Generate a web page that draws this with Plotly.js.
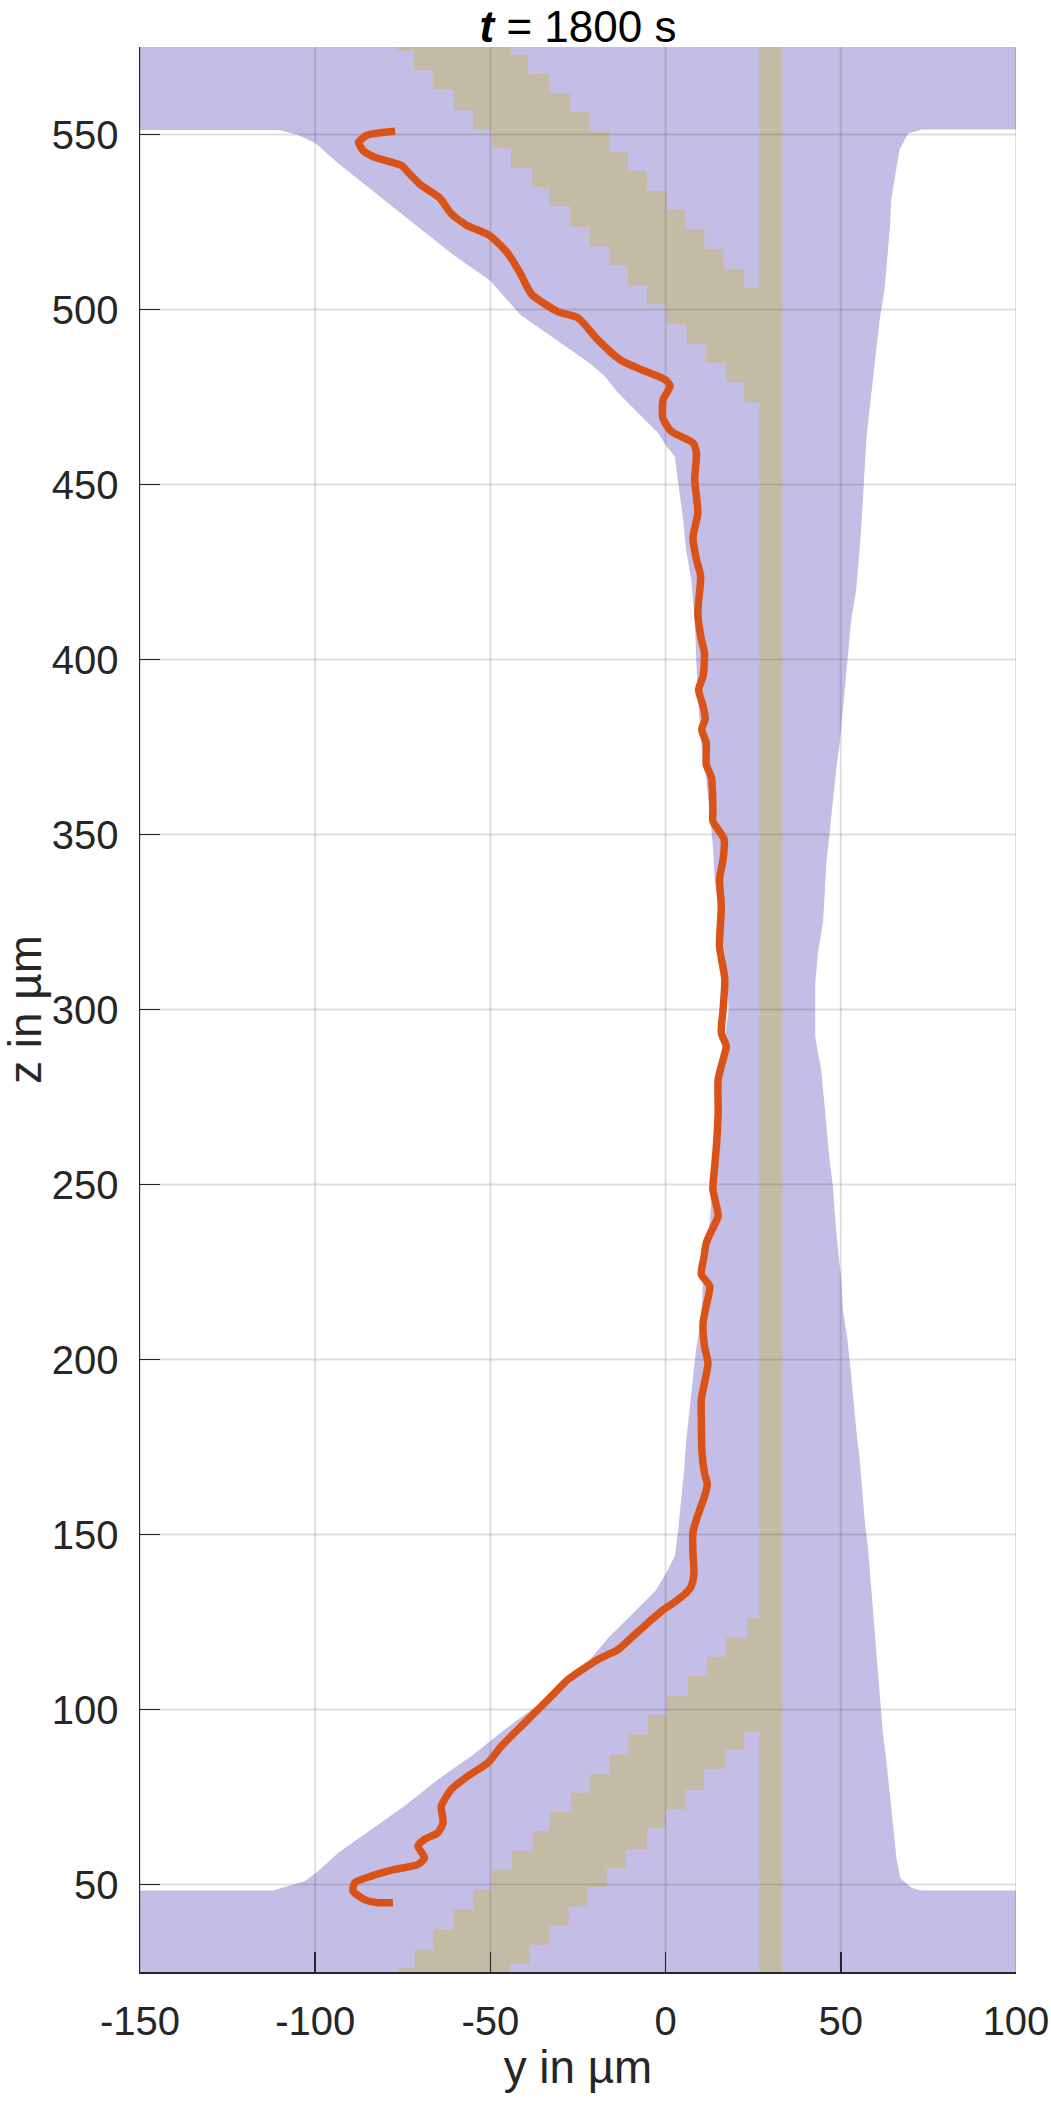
<!DOCTYPE html>
<html>
<head>
<meta charset="utf-8">
<script src="https://cdn.plot.ly/plotly-3.0.1.min.js"></script>
<style>
  html, body { margin: 0; padding: 0; background: #fff; }
  #plotly-div { width: 1051px; height: 2103px; }
</style>
</head>
<body>
<div id="plotly-div"></div>

<script>
// axis limits and ticks
var yRange = [-150, 100];
var zRange = [25, 575];
var yTicks = [-150, -100, -50, 0, 50, 100];
var zTicks = [50, 100, 150, 200, 250, 300, 350, 400, 450, 500, 550];

// channel wall (purple), right side from top to bottom
var wallRightY = [73.0, 69.2, 66.8, 65.9, 64.4, 64.0, 62.5, 61.1, 60.1, 59.2, 58.2, 57.3, 56.8, 55.8, 54.4,
  53.0, 52.1, 50.6, 49.7, 48.7, 47.8, 46.8, 45.9, 44.9, 43.5, 42.7, 42.7, 43.5, 44.4, 45.2, 45.9, 46.8,
  47.8, 48.4, 49.2, 50.1, 50.6, 51.9, 52.8, 53.5, 54.4, 55.4, 56.1, 56.8, 57.8, 58.5, 59.2, 60.1, 60.8,
  62.0, 63.1, 64.8, 65.9, 67.0, 70.2, 73.0];
var wallRightZ = [551.4, 550.3, 545.7, 540.5, 531.4, 523.3, 505.7, 497.1, 488.6, 480.0, 471.4, 462.9, 453.3,
  437.1, 420.0, 411.4, 401.9, 385.7, 376.2, 368.6, 359.5, 350.5, 341.9, 324.8, 316.2, 307.6, 292.4, 287.6,
  282.9, 274.3, 266.2, 257.1, 249.0, 240.0, 231.4, 223.3, 214.3, 205.7, 197.1, 188.6, 180.0, 171.4, 162.9,
  154.3, 145.7, 137.1, 127.6, 119.0, 110.5, 93.3, 84.6, 68.2, 57.3, 51.8, 49.1, 48.3];

// left side from bottom to top
var wallLeftY = [-112.0, -109.7, -103.0, -99.2, -93.5, -84.0, -74.5, -65.0, -55.4, -45.9, -36.2, -27.0,
  -21.5, -16.1, -9.5, -2.9, 0.2, 2.6, 3.5, 4.5, 5.3, 5.9, 6.9, 7.8, 8.8, 10.2, 10.7, 12.1, 12.6, 13.5,
  14.5, 16.0, 18.0, 17.0, 15.0, 14.0, 13.5, 12.6, 11.6, 10.2, 9.2, 8.8, 8.3, 7.3, 5.9, 5.0, 3.5, 2.6, 0.2,
  -2.2, -6.0, -9.8, -13.6, -17.4, -21.5, -30.4, -41.4, -50.1, -61.0, -71.9, -82.9, -93.8, -100.0, -104.7,
  -110.2];
var wallLeftZ = [48.3, 49.0, 50.9, 53.8, 59.0, 65.7, 72.4, 80.0, 86.7, 94.3, 101.5, 107.7, 114.2, 120.8,
  127.3, 133.9, 139.1, 143.8, 150.5, 160.0, 168.6, 177.1, 185.7, 194.3, 203.8, 211.4, 222.9, 230.0, 240.0,
  250.0, 265.0, 285.0, 300.0, 315.0, 330.0, 337.2, 346.7, 356.2, 365.7, 375.2, 389.5, 399.0, 411.4, 422.9,
  431.0, 440.0, 451.4, 458.0, 461.0, 464.8, 468.6, 472.4, 476.2, 481.0, 484.5, 490.8, 498.4, 508.3, 515.9,
  524.6, 533.4, 542.1, 547.6, 549.8, 551.3];

// beige band, upper part (stair corners)
var topBandUpperY = [-76.6, -44.1, -44.1, -39.2, -33.2, -27.2, -21.7, -16.0, -10.7, -5.3, 0.3, 5.6, 11.1, 16.5, 22.3, 30];
var topBandUpperZ = [575, 575, 572.8, 567.3, 561.8, 556.4, 550.9, 545.1, 539.5, 533.9, 528.5, 523.0, 517.2, 511.6, 506.2, 506.2];
var topBandLowerY = [-76.6, -71.9, -66.5, -60.5, -55.0, -49.5, -44.1, -38.1, -33.2, -27.2, -21.7, -16.2, -10.8, -5.3, 0.2, 6.0, 11.5, 17.2, 22.3, 30];
var topBandLowerZ = [575, 573.9, 568.4, 562.9, 556.9, 551.4, 546.0, 540.5, 535.0, 529.6, 523.6, 518.1, 512.6, 507.0, 501.4, 495.7, 490.2, 484.8, 479.2, 473.5];

// beige band, lower part
var botBandUpperY = [-76.4, -76.4, -71.6, -66.4, -60.5, -54.9, -49.5, -43.9, -37.9, -33.0, -27.0, -21.5, -16.0, -10.6, -5.1, 0.3, 6.3, 11.8, 17.3, 23.3, 30];
var botBandUpperZ = [25, 26.2, 31.4, 37.0, 42.9, 48.6, 54.2, 59.5, 65.2, 70.7, 76.2, 81.6, 87.1, 92.9, 98.4, 103.8, 109.6, 115.1, 120.6, 126.0, 126.0];
var botBandLowerY = [-44.4, -38.8, -33.2, -27.7, -22.3, -16.8, -11.4, -5.3, 0.1, 5.6, 11.0, 17.0, 22.5, 30];
var botBandLowerZ = [25, 27.3, 32.8, 38.2, 43.7, 49.2, 54.6, 60.1, 66.1, 71.6, 77.0, 83.1, 88.5, 93.5];

// vertical beige strip
var stripY = [26.8, 33.3];

// interface line (orange)
var frontY = [-77.2, -85.2, -87.6, -86.3, -83.0, -75.3, -73.2, -69.9, -64.4, -61.2,
  -56.8, -50.3, -45.4, -41.5, -38.3, -30.6, -25.0, -19.5, -12.8, -6.8,
  -0.2, 1.3, -0.7, -0.8, 1.6, 7.8, 8.8, 8.3, 9.2, 7.8,
  8.8, 10.0, 9.2, 10.2, 11.1, 10.7, 9.4, 10.7, 11.3, 10.3,
  11.6, 11.6, 13.1, 13.5, 13.5, 16.7, 16.4, 15.4, 15.9, 15.4,
  16.9, 16.4, 15.9, 17.3, 16.4, 15.0, 15.0, 14.5, 14.0, 13.5,
  15.0, 13.5, 11.6, 11.0, 10.2, 12.6, 11.6, 10.7, 11.1, 12.1,
  11.1, 10.2, 10.2, 10.4, 11.1, 11.9, 11.1, 8.8, 7.8, 7.8,
  8.1, 7.3, 5.4, 1.6, -1.2, -5.0, -8.8, -13.6, -19.3, -27.8,
  -32.6, -38.3, -42.1, -46.9, -50.7, -56.4, -61.2, -64.0, -63.5, -65.0,
  -68.8, -70.7, -68.8, -70.7, -77.3, -84.0, -88.7, -89.2, -85.9, -82.1,
  -77.8];
var frontZ = [550.9, 549.8, 547.8, 545.4, 543.5, 541.1, 538.9, 535.6, 531.8, 527.4,
  524.1, 521.2, 516.5, 510.4, 504.4, 499.3, 497.6, 491.5, 485.5, 482.8,
  480.0, 478.1, 474.3, 469.0, 465.2, 461.9, 459.0, 451.4, 441.9, 434.8,
  428.6, 423.8, 413.3, 405.7, 401.9, 395.2, 391.4, 386.7, 383.0, 380.0,
  376.2, 370.0, 366.2, 357.1, 353.8, 348.6, 342.9, 337.2, 329.5, 318.1,
  308.6, 300.0, 293.3, 289.5, 285.7, 280.0, 270.5, 261.0, 255.2, 248.6,
  241.0, 237.6, 233.3, 229.5, 224.3, 221.0, 215.3, 210.5, 203.8, 199.0,
  193.3, 188.6, 182.9, 173.3, 167.6, 164.3, 160.9, 154.3, 150.5, 144.8,
  139.1, 135.2, 132.9, 130.0, 128.1, 124.8, 121.4, 117.1, 114.3, 108.6,
  103.8, 98.1, 94.3, 89.5, 84.8, 81.0, 77.1, 72.4, 67.6, 64.8,
  62.9, 61.0, 57.6, 55.7, 54.3, 52.4, 50.5, 48.1, 45.7, 44.8,
  44.8];

var purple = '#c4bee6';
var beige = '#c3bba5';
var orange = '#d95319';
var axisCol = '#262626';
var fontFam = '"Liberation Sans", Arial, Helvetica, sans-serif';

// purple wall polygon: top slab, right wall, bottom slab, left wall
var wallX = [yRange[0], yRange[1], yRange[1]].concat(wallRightY, [yRange[1], yRange[1], yRange[0], yRange[0]], wallLeftY, [yRange[0]]);
var wallZ = [zRange[1], zRange[1], wallRightZ[0]].concat(wallRightZ, [wallRightZ[wallRightZ.length - 1], zRange[0], zRange[0], wallLeftZ[0]], wallLeftZ, [wallLeftZ[wallLeftZ.length - 1]]);

var rev = function (a) { return a.slice().reverse(); };

var topBandX = topBandUpperY.concat(rev(topBandLowerY));
var topBandZ = topBandUpperZ.concat(rev(topBandLowerZ));
var botBandX = botBandUpperY.concat(rev(botBandLowerY), [botBandUpperY[0]]);
var botBandZ = botBandUpperZ.concat(rev(botBandLowerZ), [botBandUpperZ[0]]);

// grid lines, drawn over the filled areas like MATLAB does
var gridX = [], gridZ = [];
yTicks.forEach(function (t) { gridX.push(t, t, null); gridZ.push(zRange[0], zRange[1], null); });
zTicks.forEach(function (t) { gridX.push(yRange[0], yRange[1], null); gridZ.push(t, t, null); });

var fillTrace = function (x, y, col, shape) {
  return { x: x, y: y, type: 'scatter', mode: 'lines', fill: 'toself', fillcolor: col,
           line: { width: 0, color: col, shape: shape || 'linear' }, hoverinfo: 'skip', showlegend: false };
};

var dataPlot = [
  fillTrace(wallX, wallZ, purple),
  fillTrace(topBandX, topBandZ, beige, 'hv'),
  fillTrace(botBandX, botBandZ, beige, 'hv'),
  fillTrace([stripY[0], stripY[1], stripY[1], stripY[0]], [zRange[0], zRange[0], zRange[1], zRange[1]], beige),
  { x: gridX, y: gridZ, type: 'scatter', mode: 'lines', line: { color: 'rgba(38,38,38,0.15)', width: 2 },
    hoverinfo: 'skip', showlegend: false },
  { x: frontY, y: frontZ, type: 'scatter', mode: 'lines',
    line: { color: orange, width: 7.5, shape: 'spline', smoothing: 0.6 }, showlegend: false }
];

var axisBase = {
  showgrid: false, zeroline: false, showline: true, linecolor: axisCol, linewidth: 1.5,
  ticks: 'inside', ticklen: 20, tickwidth: 1.5, tickcolor: axisCol, tickmode: 'array',
  ticklabeloverflow: 'allow',
  tickfont: { family: fontFam, size: 40, color: axisCol }, automargin: false
};

var layout = {
  width: 1051, height: 2103,
  margin: { l: 140, r: 35, t: 47, b: 131 },
  paper_bgcolor: '#fff', plot_bgcolor: '#fff',
  title: { text: '<b><i>t</i></b> = 1800 s', font: { family: fontFam, size: 44, color: '#000' },
           x: 0.5, xref: 'paper', y: 1 - 27 / 2103, yref: 'container', yanchor: 'middle' },
  xaxis: Object.assign({}, axisBase, {
    range: yRange, tickvals: yTicks, ticktext: yTicks.map(String), ticklabelstandoff: 13,
    title: { text: 'y in µm', font: { family: fontFam, size: 45.8, color: axisCol }, standoff: 4 }
  }),
  yaxis: Object.assign({}, axisBase, {
    range: zRange, tickvals: zTicks, ticktext: zTicks.map(String), ticklabelstandoff: 12,
    title: { text: 'z in µm', font: { family: fontFam, size: 45.8, color: axisCol }, standoff: 10 }
  })
};

Plotly.newPlot('plotly-div', dataPlot, layout, { displayModeBar: false, staticPlot: true });
</script>
</body>
</html>
